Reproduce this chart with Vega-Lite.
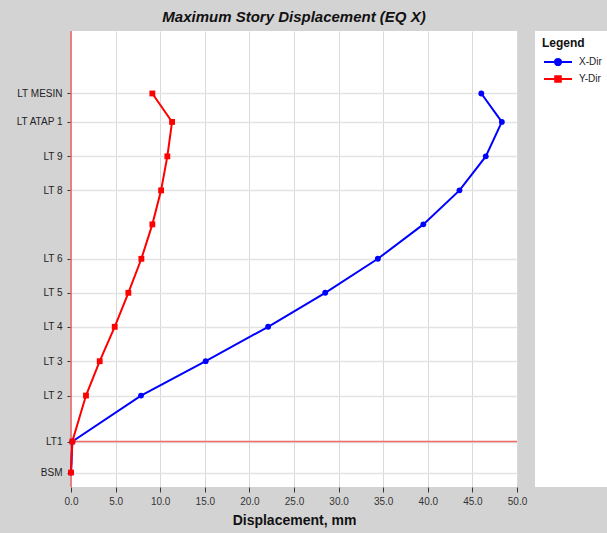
{
  "$schema": "https://vega.github.io/schema/vega-lite/v6.json",
  "autosize": {"type": "pad"},
  "padding": {"left": 15, "top": 10, "right": 0, "bottom": 20},
  "background": "#d3d3d3",
  "config": {
    "font": "Liberation Sans",
    "view": {"fill": "white", "stroke": null}
  },
  "spacing": 8,
  "hconcat": [
    {
      "width": 446,
      "height": 456,
      "title": {
        "text": "Maximum Story Displacement (EQ X)",
        "fontSize": 15,
        "fontWeight": "bold",
        "fontStyle": "italic",
        "color": "#111111",
        "anchor": "middle",
        "frame": "group",
        "baseline": "alphabetic",
        "offset": -7
      },
      "data": {
        "values": [
          {"story": "BSM", "elev": 0, "dir": "X-Dir", "disp": 0},
          {"story": "LT1", "elev": 3.65, "dir": "X-Dir", "disp": 0.15},
          {"story": "LT 2", "elev": 9.06, "dir": "X-Dir", "disp": 7.85},
          {"story": "LT 3", "elev": 13.1, "dir": "X-Dir", "disp": 15.1},
          {"story": "LT 4", "elev": 17.15, "dir": "X-Dir", "disp": 22.1},
          {"story": "LT 5", "elev": 21.15, "dir": "X-Dir", "disp": 28.5},
          {"story": "LT 6", "elev": 25.15, "dir": "X-Dir", "disp": 34.4},
          {"story": "LT 7", "elev": 29.2, "dir": "X-Dir", "disp": 39.5},
          {"story": "LT 8", "elev": 33.2, "dir": "X-Dir", "disp": 43.55},
          {"story": "LT 9", "elev": 37.2, "dir": "X-Dir", "disp": 46.5},
          {"story": "LT ATAP 1", "elev": 41.25, "dir": "X-Dir", "disp": 48.3},
          {"story": "LT MESIN", "elev": 44.6, "dir": "X-Dir", "disp": 46.0},
          {"story": "BSM", "elev": 0, "dir": "Y-Dir", "disp": 0},
          {"story": "LT1", "elev": 3.65, "dir": "Y-Dir", "disp": 0.15},
          {"story": "LT 2", "elev": 9.06, "dir": "Y-Dir", "disp": 1.68},
          {"story": "LT 3", "elev": 13.1, "dir": "Y-Dir", "disp": 3.22},
          {"story": "LT 4", "elev": 17.15, "dir": "Y-Dir", "disp": 4.9},
          {"story": "LT 5", "elev": 21.15, "dir": "Y-Dir", "disp": 6.43},
          {"story": "LT 6", "elev": 25.15, "dir": "Y-Dir", "disp": 7.89},
          {"story": "LT 7", "elev": 29.2, "dir": "Y-Dir", "disp": 9.12},
          {"story": "LT 8", "elev": 33.2, "dir": "Y-Dir", "disp": 10.1},
          {"story": "LT 9", "elev": 37.2, "dir": "Y-Dir", "disp": 10.8},
          {"story": "LT ATAP 1", "elev": 41.25, "dir": "Y-Dir", "disp": 11.33},
          {"story": "LT MESIN", "elev": 44.6, "dir": "Y-Dir", "disp": 9.12}
        ]
      },
      "layer": [
        {
          "data": {"values": [{}]},
          "mark": {"type": "rule", "color": "#f06a6a", "strokeWidth": 1.6},
          "encoding": {"x": {"datum": 0, "type": "quantitative"}}
        },
        {
          "data": {"values": [{}]},
          "mark": {"type": "rule", "color": "#f06a6a", "strokeWidth": 1.6},
          "encoding": {"y": {"datum": 3.65, "type": "quantitative"}}
        },
        {
          "mark": {"type": "line", "strokeWidth": 2},
          "encoding": {
            "x": {
              "field": "disp",
              "type": "quantitative",
              "scale": {"domain": [0, 50], "nice": false, "zero": false},
              "axis": {
                "title": "Displacement, mm",
                "titleFontSize": 14,
                "titleFontWeight": "bold",
                "titleColor": "#111111",
                "titlePadding": 7,
                "values": [0, 5, 10, 15, 20, 25, 30, 35, 40, 45, 50],
                "format": ".1f",
                "labelFlush": false,
                "labelFontSize": 10,
                "labelColor": "#333333",
                "labelPadding": 4,
                "tickSize": 5,
                "tickColor": "#333333",
                "domain": false,
                "grid": true,
                "gridColor": "#d9d9d9",
                "gridWidth": 1
              }
            },
            "y": {
              "field": "elev",
              "type": "quantitative",
              "scale": {"domain": [-1.7, 51.95], "nice": false, "zero": false},
              "axis": {
                "title": null,
                "values": [0, 3.65, 9.06, 13.1, 17.15, 21.15, 25.15, 33.2, 37.2, 41.25, 44.6],
                "labelExpr": "datum.value == 0 ? 'BSM' : datum.value == 3.65 ? 'LT1' : datum.value == 9.06 ? 'LT 2' : datum.value == 13.1 ? 'LT 3' : datum.value == 17.15 ? 'LT 4' : datum.value == 21.15 ? 'LT 5' : datum.value == 25.15 ? 'LT 6' : datum.value == 33.2 ? 'LT 8' : datum.value == 37.2 ? 'LT 9' : datum.value == 41.25 ? 'LT ATAP 1' : 'LT MESIN'",
                "labelFontSize": 10,
                "labelColor": "#222222",
                "labelPadding": 5,
                "tickSize": 4,
                "tickColor": "#333333",
                "domain": false,
                "grid": true,
                "gridColor": "#e3e3e3",
                "gridWidth": 1.5
              }
            },
            "order": {"field": "elev", "type": "quantitative"},
            "color": {
              "field": "dir",
              "type": "nominal",
              "scale": {"domain": ["X-Dir", "Y-Dir"], "range": ["#0000ff", "#ff0000"]},
              "legend": {
                "orient": "none",
                "legendX": 471,
                "legendY": 7,
                "title": "Legend",
                "titleFontSize": 12,
                "titleFontWeight": "bold",
                "titleColor": "#111111",
                "titlePadding": 6,
                "labelFontSize": 10,
                "labelColor": "#222222",
                "symbolSize": 784,
                "symbolStrokeWidth": 2,
                "symbolOffset": 1,
                "labelOffset": 6,
                "rowPadding": 5,
                "clipHeight": 12,
                "padding": 0,
                "encode": {
                  "symbols": {
                    "update": {
                      "fill": {"signal": "datum.value === 'X-Dir' ? '#0000ff' : '#ff0000'"},
                      "stroke": {"signal": "datum.value === 'X-Dir' ? '#0000ff' : '#ff0000'"},
                      "strokeWidth": {"value": 2},
                      "opacity": {"value": 1}
                    }
                  }
                }
              }
            }
          }
        },
        {
          "transform": [{"filter": "datum.dir === 'X-Dir'"}],
          "mark": {"type": "point", "filled": true, "opacity": 1, "size": 34, "shape": "circle"},
          "encoding": {
            "x": {"field": "disp", "type": "quantitative"},
            "y": {"field": "elev", "type": "quantitative"},
            "color": {"field": "dir", "type": "nominal"}
          }
        },
        {
          "transform": [{"filter": "datum.dir === 'Y-Dir'"}],
          "mark": {"type": "point", "filled": true, "opacity": 1, "size": 34, "shape": "square"},
          "encoding": {
            "x": {"field": "disp", "type": "quantitative"},
            "y": {"field": "elev", "type": "quantitative"},
            "color": {"field": "dir", "type": "nominal"}
          }
        },
        {
          "transform": [{"filter": "false"}],
          "mark": {"type": "point", "filled": true, "opacity": 1},
          "encoding": {
            "x": {"field": "disp", "type": "quantitative"},
            "y": {"field": "elev", "type": "quantitative"},
            "color": {"field": "dir", "type": "nominal"},
            "shape": {
              "field": "dir",
              "type": "nominal",
              "scale": {
                "domain": ["X-Dir", "Y-Dir"],
                "range": [
                  "M-1,0H1M-0.22,0A0.22,0.22 0 1,1 0.22,0A0.22,0.22 0 1,1 -0.22,0Z",
                  "M-1,0H1M-0.2,-0.2H0.2V0.2H-0.2Z"
                ]
              },
              "legend": {
                "orient": "none",
                "legendX": 471,
                "legendY": 7,
                "title": "Legend",
                "titleFontSize": 12,
                "titleFontWeight": "bold",
                "titleColor": "#111111",
                "titlePadding": 6,
                "labelFontSize": 10,
                "labelColor": "#222222",
                "symbolSize": 784,
                "symbolStrokeWidth": 2,
                "symbolOffset": 1,
                "labelOffset": 6,
                "rowPadding": 5,
                "clipHeight": 12,
                "padding": 0
              }
            }
          }
        }
      ]
    },
    {
      "width": 72,
      "height": 456,
      "data": {"values": [{}]},
      "mark": {"type": "rect", "color": "white"},
      "encoding": {}
    }
  ]
}
